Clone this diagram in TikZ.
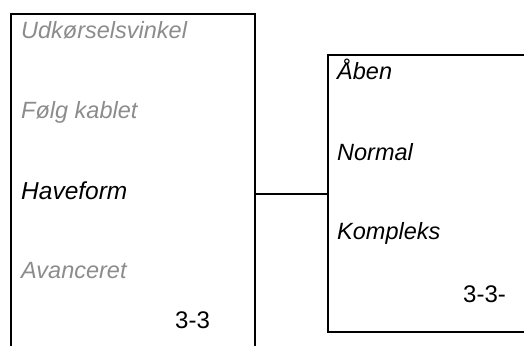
\documentclass[tikz,border=0pt]{standalone}
\usepackage{fontspec}
\setmainfont{Liberation Sans}
\definecolor{menugray}{RGB}{140,140,140}
\begin{document}
\begin{tikzpicture}[x=1pt,y=-1pt,
  panel/.style={draw=black,line width=2pt,rectangle,inner sep=0pt,anchor=north west},
  item/.style={anchor=base west,inner sep=0pt,font=\fontsize{23.5}{28}\selectfont\itshape},
  dim/.style={item,text=menugray},
  code/.style={anchor=base west,inner sep=0pt,font=\fontsize{24}{28}\selectfont},
  link/.style={draw=black,line width=2pt}]
\useasboundingbox (0,0) rectangle (524,345);
\clip (0,0) rectangle (524,345);
\node[panel,minimum width=244pt,minimum height=360pt] (L) at (10,13) {};
\node[panel,minimum width=220pt,minimum height=277pt] (R) at (327,54) {};
\draw[link] (R.west) -- (R.west -| L.east);
\node[dim]  (t1) at (21,38)  {Udkørselsvinkel};
\node[dim]  (t2) at (21,118) {Følg kablet};
\node[item,font=\fontsize{24.5}{28}\selectfont\itshape] (t3) at (21,199) {Haveform};
\node[dim]  (t4) at (21,278) {Avanceret};
\node[code] (t5) at (175,328) {3-3};
\node[item] (r1) at (337,79)  {Åben};
\node[item] (r2) at (337,160) {Normal};
\node[item] (r3) at (337,239) {Kompleks};
\node[code] (r4) at (463,302) {3-3-};
\end{tikzpicture}
\end{document}
